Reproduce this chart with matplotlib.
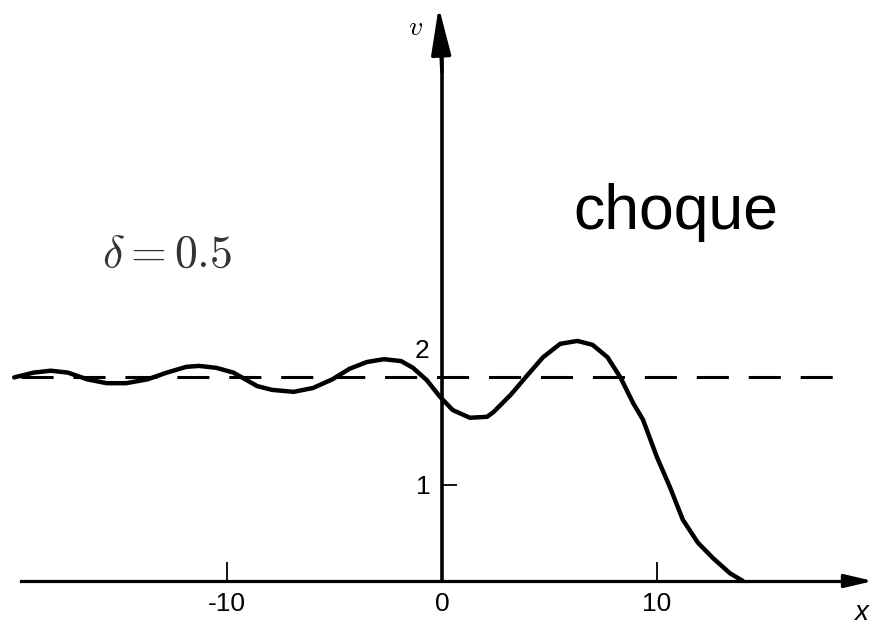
import matplotlib.pyplot as plt

# curve (x, v)
x_vals = [-19.9, -19.0, -18.2, -17.4, -16.5, -15.6, -14.7, -13.7, -12.8, -11.9,
          -11.3, -10.5, -9.7, -8.6, -7.9, -6.9, -6.0, -5.1, -4.3, -3.5,
          -2.7, -1.9, -1.35, -0.7, -0.1, 0.5, 1.3, 2.1, 2.4, 3.2,
          4.0, 4.7, 5.5, 6.3, 7.0, 7.7, 8.3, 8.9, 9.35, 10.0,
          10.6, 11.2, 11.9, 12.6, 13.4, 14.0]
v_vals = [2.12, 2.17, 2.19, 2.17, 2.10, 2.06, 2.06, 2.10, 2.17, 2.23,
          2.24, 2.22, 2.17, 2.03, 1.99, 1.97, 2.01, 2.10, 2.21, 2.28,
          2.31, 2.29, 2.22, 2.09, 1.92, 1.78, 1.70, 1.71, 1.76, 1.94,
          2.15, 2.33, 2.47, 2.50, 2.46, 2.33, 2.12, 1.85, 1.68, 1.29,
          0.98, 0.64, 0.40, 0.24, 0.08, 0.0]

v_inf = 2.125
dash_range = [-19.6, 18.3]
x_ticks = [-10, 0, 10]
x_tick_labels = ["-10", "0", "10"]
y_ticks = [1]
y_tick_labels = ["1"]

fig = plt.figure(figsize=(8.73, 6.30), dpi=100)
ax = fig.add_axes([0, 0, 1, 1])
ax.set_xlim(-20.56, 20.05)
ax.set_ylim(-0.51, 6.05)

for side in ("top", "right"):
    ax.spines[side].set_visible(False)
ax.spines["left"].set_position(("data", 0))
ax.spines["bottom"].set_position(("data", 0))
ax.spines["left"].set_bounds(0, 5.5)
ax.spines["bottom"].set_bounds(-19.6, 19.2)
ax.spines["left"].set_linewidth(2.6)
ax.spines["bottom"].set_linewidth(2.3)

ax.annotate("", xy=(-0.15, 5.98), xytext=(0, 5.3),
            arrowprops=dict(arrowstyle="-|>,head_length=1.45,head_width=0.3",
                            lw=2.6, color="black", shrinkA=0, shrinkB=0,
                            mutation_scale=20))
ax.annotate("", xy=(20.05, 0), xytext=(18.8, 0),
            arrowprops=dict(arrowstyle="-|>,head_length=0.85,head_width=0.2",
                            lw=2.3, color="black", shrinkA=0, shrinkB=0,
                            mutation_scale=20))

ax.set_xticks(x_ticks, labels=x_tick_labels)
ax.set_yticks(y_ticks, labels=y_tick_labels)
ax.tick_params(axis="x", direction="in", length=14, width=1.3, pad=8,
               labelsize=19)
ax.tick_params(axis="y", direction="in", length=11, width=1.3, pad=8,
               labelsize=19)
for lab in ax.get_xticklabels() + ax.get_yticklabels():
    lab.set_family(["Liberation Sans", "DejaVu Sans"])

ax.plot(dash_range, [v_inf, v_inf], color="black", lw=2.2,
        linestyle=(0, (10.5, 6.5)))
ax.plot(x_vals, v_vals, color="black", lw=3.2, solid_joinstyle="round",
        solid_capstyle="round")

ax.text(-0.95, 2.4, "2", fontsize=19, ha="center", va="center",
        family=["Liberation Sans", "DejaVu Sans"])
ax.text(-1.21, 5.77, r"$v$", fontsize=20, ha="center", va="center",
        math_fontfamily="cm")
ax.text(19.5, -0.2, "x", fontsize=20, ha="center", va="top",
        family=["Liberation Sans", "DejaVu Sans"], style="italic")
ax.text(-15.8, 3.27, r"$\delta = 0.5$", fontsize=33, ha="left",
        va="baseline", color="#333333", math_fontfamily="cm")
ax.text(10.9, 3.67, "choque", fontsize=45, ha="center", va="baseline",
        family=["Liberation Sans", "DejaVu Sans"])

fig.savefig("out.png", dpi=100)
